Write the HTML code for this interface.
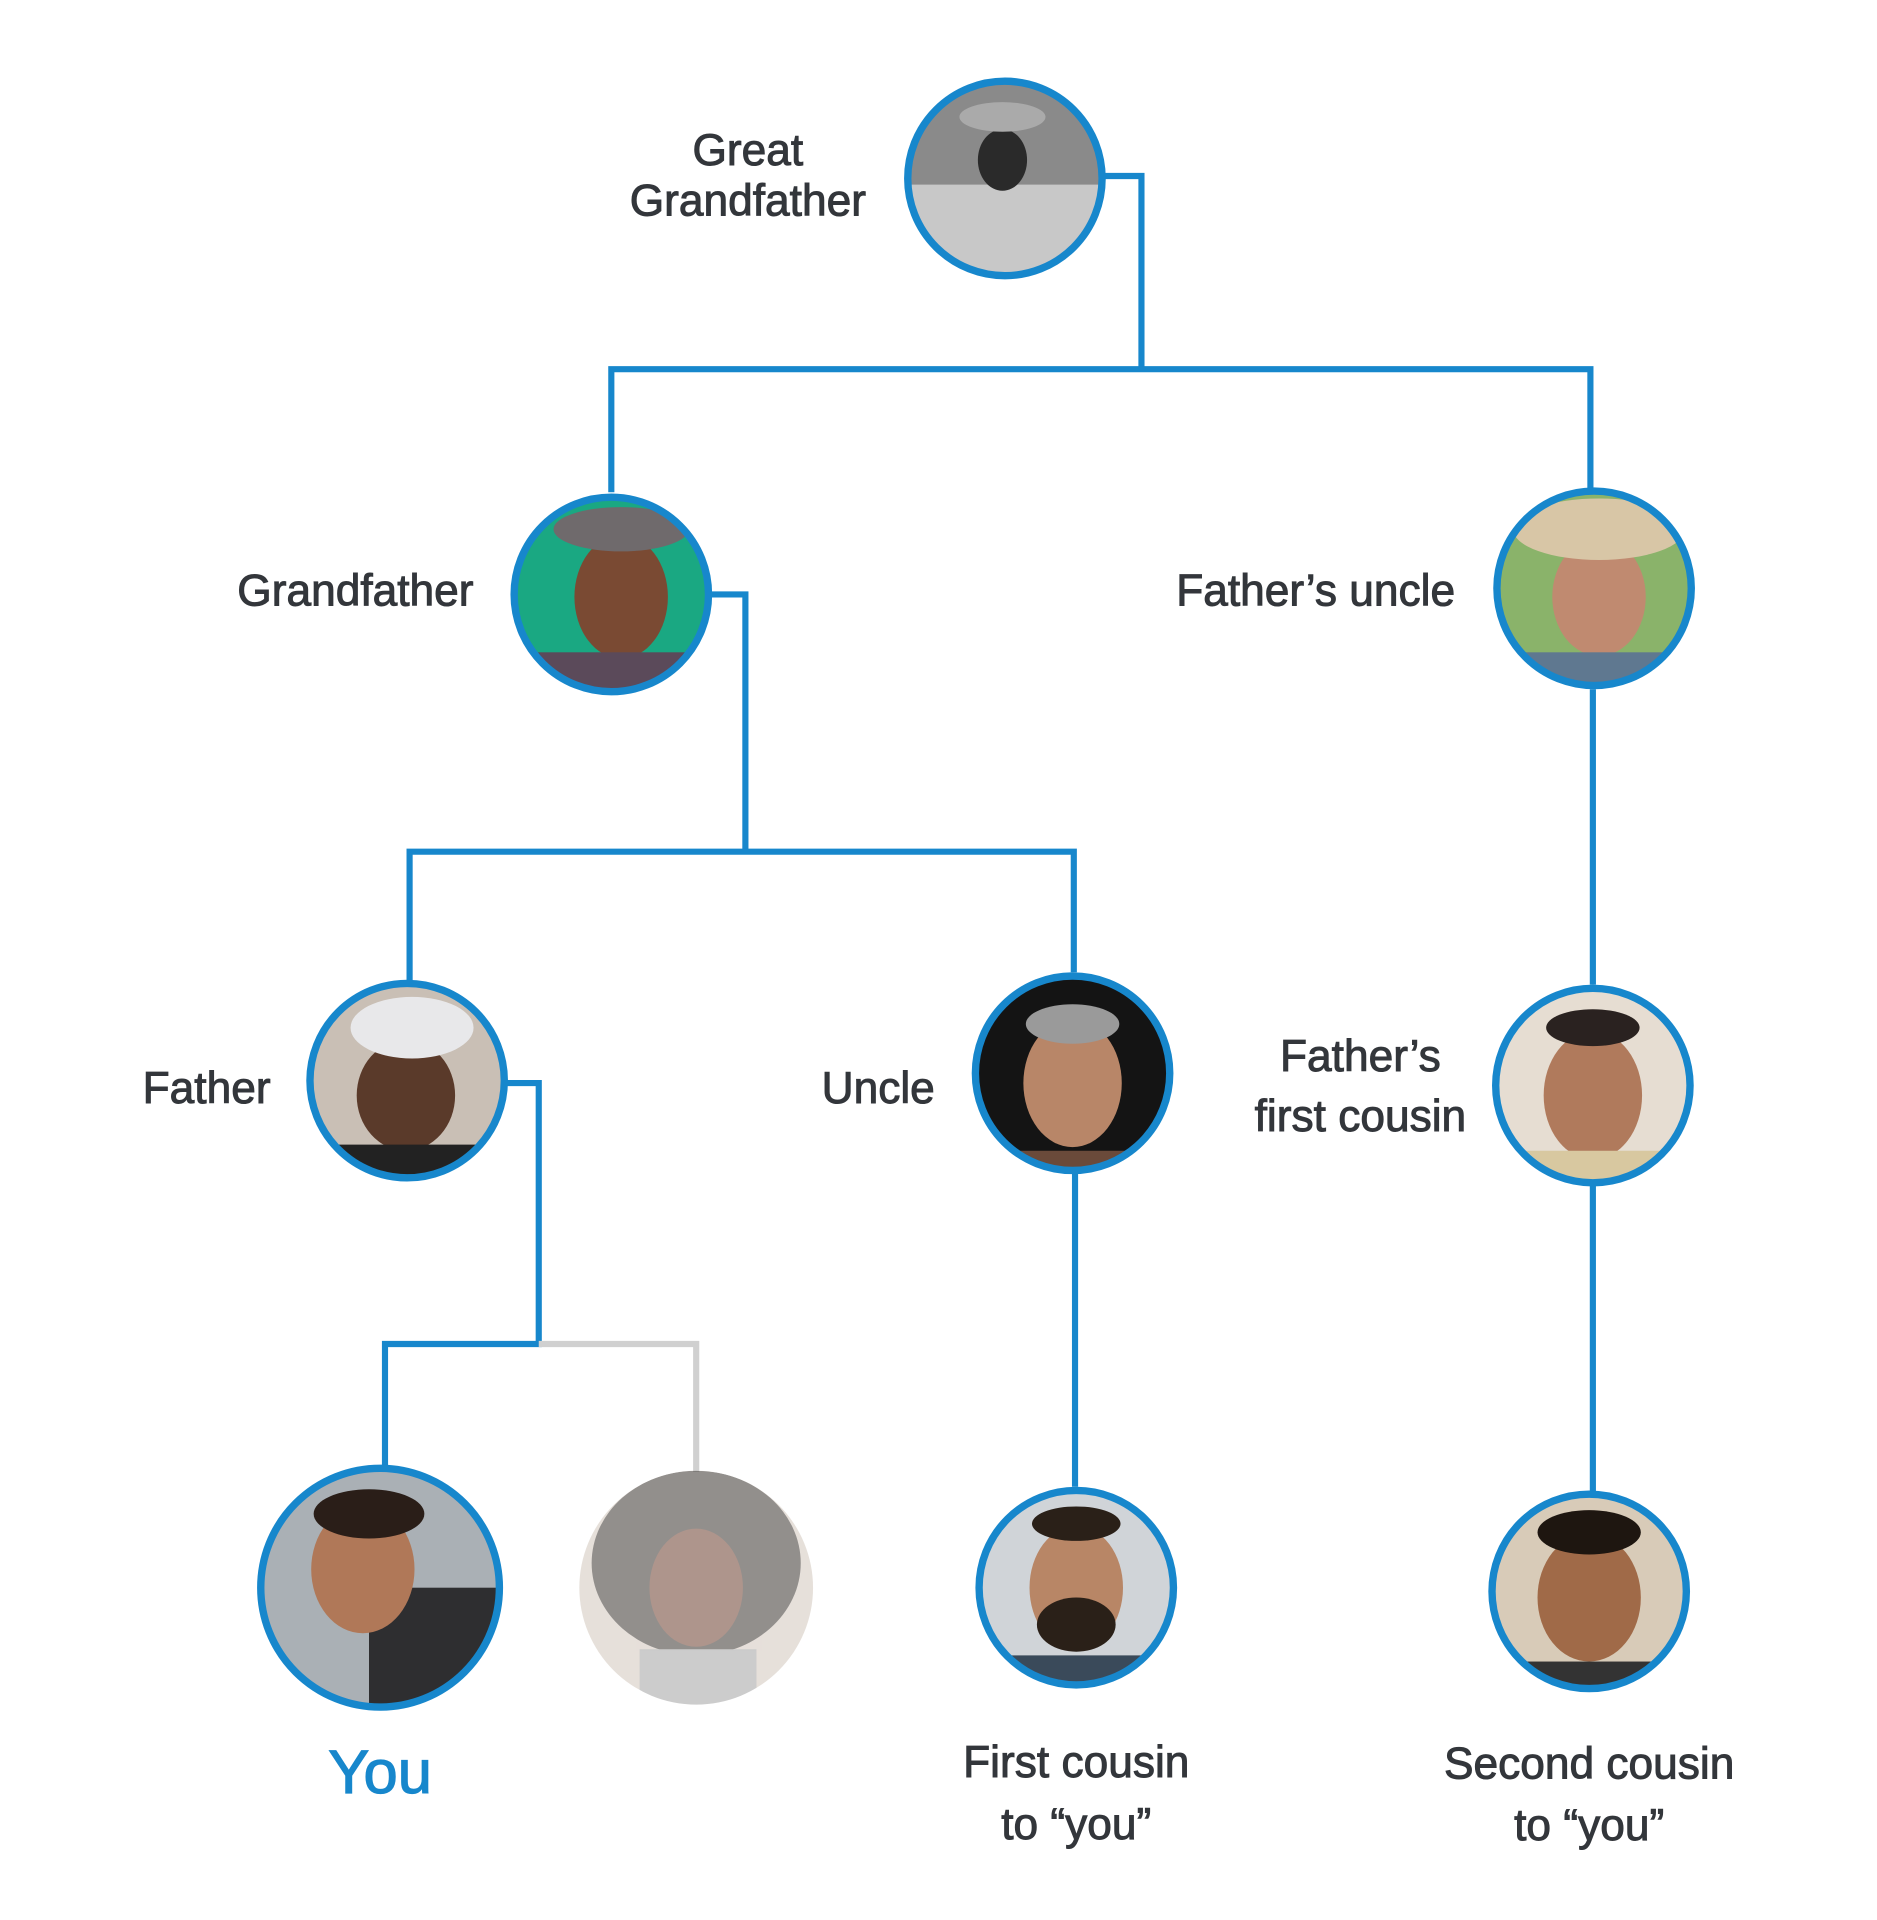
<!DOCTYPE html>
<html><head><meta charset="utf-8"><style>
html,body{margin:0;padding:0;background:#fff;}
svg{display:block;}
text{font-family:"Liberation Sans",Arial,sans-serif;fill:#33363b;stroke:#33363b;stroke-width:0.8;}
</style></head><body>
<svg width="1877" height="1920" viewBox="0 0 1526 1560" preserveAspectRatio="none" xmlns="http://www.w3.org/2000/svg">
<defs>
<clipPath id="c1"><circle cx="817" cy="145" r="77"/></clipPath>
<clipPath id="c2"><circle cx="497" cy="483" r="77"/></clipPath>
<clipPath id="c3"><circle cx="1296" cy="478" r="77"/></clipPath>
<clipPath id="c4"><circle cx="331" cy="878" r="77"/></clipPath>
<clipPath id="c5"><circle cx="872" cy="872" r="77"/></clipPath>
<clipPath id="c6"><circle cx="1295" cy="882" r="77"/></clipPath>
<clipPath id="c7"><circle cx="309" cy="1290" r="95"/></clipPath>
<clipPath id="c8"><circle cx="566" cy="1290" r="95"/></clipPath>
<clipPath id="c9"><circle cx="875" cy="1290" r="77"/></clipPath>
<clipPath id="c10"><circle cx="1292" cy="1293" r="77"/></clipPath>
</defs>
<g fill="none" stroke="#1787cc" stroke-width="5">
<polyline points="897,143 928,143 928,300"/>
<polyline points="497,400 497,300 1293,300 1293,397"/>
<polyline points="578,483 606,483 606,692"/>
<polyline points="333,797 333,692 873,692 873,790"/>
<line x1="1295" y1="560" x2="1295" y2="800"/>
<polyline points="412,880 438,880 438,1092 313,1092 313,1192"/>
<line x1="874" y1="952" x2="874" y2="1208"/>
<line x1="1295" y1="962" x2="1295" y2="1212"/>
</g>
<polyline points="438,1092 566,1092 566,1196" fill="none" stroke="#d0d0d0" stroke-width="5"/>

<g clip-path="url(#c1)"><rect x="730" y="60" width="180" height="180" fill="#8a8a8a"/><rect x="730" y="150" width="180" height="90" fill="#c8c8c8"/><ellipse cx="815" cy="130" rx="20" ry="25" fill="#2a2a2a"/><ellipse cx="815" cy="95" rx="35" ry="12" fill="#aaa"/></g>
<g clip-path="url(#c2)"><rect x="410" y="400" width="180" height="170" fill="#1aa882"/><ellipse cx="505" cy="485" rx="38" ry="50" fill="#7a4a33"/><ellipse cx="505" cy="430" rx="55" ry="18" fill="#6f6a6c"/><rect x="430" y="530" width="150" height="40" fill="#5b4a5a"/></g>
<g clip-path="url(#c3)"><rect x="1210" y="395" width="180" height="170" fill="#8ab36a"/><ellipse cx="1300" cy="485" rx="38" ry="48" fill="#c08a70"/><ellipse cx="1300" cy="430" rx="70" ry="25" fill="#d8c6a6"/><rect x="1220" y="530" width="160" height="40" fill="#5f7890"/></g>
<g clip-path="url(#c4)"><rect x="250" y="795" width="170" height="170" fill="#c9bfb5"/><ellipse cx="330" cy="890" rx="40" ry="45" fill="#5a3a2a"/><ellipse cx="335" cy="835" rx="50" ry="25" fill="#e8e8ea"/><rect x="255" y="930" width="160" height="40" fill="#222"/></g>
<g clip-path="url(#c5)"><rect x="790" y="790" width="170" height="170" fill="#141414"/><ellipse cx="872" cy="880" rx="40" ry="52" fill="#b88668"/><ellipse cx="872" cy="832" rx="38" ry="16" fill="#9a9a9a"/><rect x="800" y="935" width="150" height="30" fill="#6a4a3a"/></g>
<g clip-path="url(#c6)"><rect x="1210" y="800" width="170" height="170" fill="#e6ddd2"/><ellipse cx="1295" cy="890" rx="40" ry="52" fill="#b07a5c"/><ellipse cx="1295" cy="835" rx="38" ry="15" fill="#2a2220"/><rect x="1230" y="935" width="130" height="30" fill="#d8c8a0"/></g>
<g clip-path="url(#c7)"><rect x="210" y="1190" width="200" height="200" fill="#aab0b5"/><rect x="300" y="1290" width="110" height="100" fill="#2e2e30"/><ellipse cx="295" cy="1275" rx="42" ry="52" fill="#b07858"/><ellipse cx="300" cy="1230" rx="45" ry="20" fill="#2a1e18"/></g>
<g clip-path="url(#c8)" opacity="0.6"><rect x="470" y="1190" width="200" height="200" fill="#d6cbc2"/><ellipse cx="566" cy="1270" rx="85" ry="75" fill="#4a4540"/><ellipse cx="566" cy="1290" rx="38" ry="48" fill="#7a5040"/><rect x="520" y="1340" width="95" height="50" fill="#aaa"/></g>
<g clip-path="url(#c9)"><rect x="790" y="1210" width="170" height="170" fill="#d0d4d8"/><ellipse cx="875" cy="1290" rx="38" ry="50" fill="#b88666"/><ellipse cx="875" cy="1320" rx="32" ry="22" fill="#2a2018"/><ellipse cx="875" cy="1238" rx="36" ry="14" fill="#2a2018"/><rect x="820" y="1345" width="110" height="40" fill="#3a4a5a"/></g>
<g clip-path="url(#c10)"><rect x="1210" y="1210" width="170" height="170" fill="#d8cbb8"/><ellipse cx="1292" cy="1298" rx="42" ry="52" fill="#a06a48"/><ellipse cx="1292" cy="1245" rx="42" ry="18" fill="#1e1610"/><rect x="1240" y="1350" width="110" height="30" fill="#333"/></g>

<g fill="none" stroke="#1787cc" stroke-width="6">
<circle cx="817" cy="145" r="79"/>
<circle cx="497" cy="483" r="79"/>
<circle cx="1296" cy="478" r="79"/>
<circle cx="331" cy="878" r="79"/>
<circle cx="872" cy="872" r="79"/>
<circle cx="1295" cy="882" r="79"/>
<circle cx="309" cy="1290" r="97"/>
<circle cx="875" cy="1290" r="79"/>
<circle cx="1292" cy="1293" r="79"/>
</g>

<g font-size="36">
<text x="608" y="134" text-anchor="middle">Great</text>
<text x="608" y="175" text-anchor="middle">Grandfather</text>
<text x="385" y="492" text-anchor="end">Grandfather</text>
<text x="1183" y="492" text-anchor="end">Father’s uncle</text>
<text x="220" y="896" text-anchor="end">Father</text>
<text x="760" y="896" text-anchor="end">Uncle</text>
<text x="1106" y="870" text-anchor="middle">Father’s</text>
<text x="1106" y="919" text-anchor="middle">first cousin</text>
<text x="875" y="1444" text-anchor="middle">First cousin</text>
<text x="875" y="1494" text-anchor="middle">to “you”</text>
<text x="1292" y="1445" text-anchor="middle">Second cousin</text>
<text x="1292" y="1495" text-anchor="middle">to “you”</text>
</g>
<text x="309" y="1457" text-anchor="middle" font-size="50" style="fill:#1787cc;stroke:#1787cc;stroke-width:1">You</text>
</svg>
</body></html>
